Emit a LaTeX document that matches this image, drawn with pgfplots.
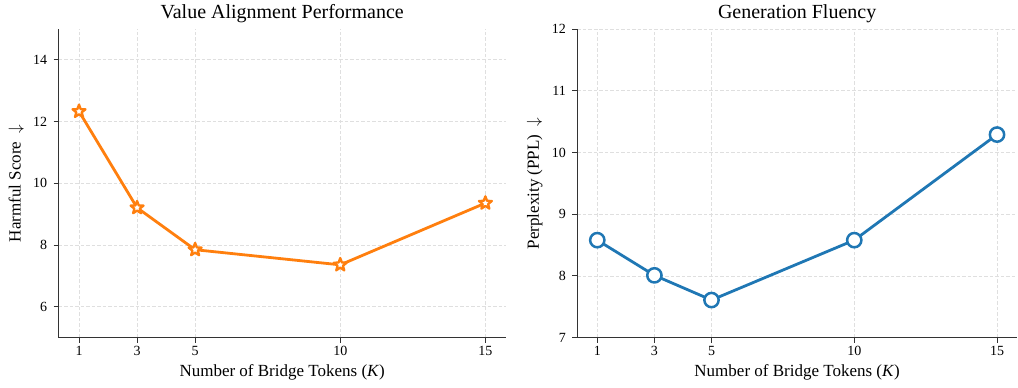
\documentclass[border=0pt]{standalone}
\usepackage{fontspec}
\setmainfont{Liberation Serif}
\usepackage{pgfplots}
\pgfplotsset{compat=1.18}
\definecolor{tabblue}{HTML}{1F77B4}
\definecolor{taborange}{HTML}{FF7F0E}

\pgfdeclareplotmark{ostar}{%
  \pgfpathmoveto{\pgfpointpolar{90}{\pgfplotmarksize}}%
  \pgfpathlineto{\pgfpointpolar{126}{0.42\pgfplotmarksize}}%
  \pgfpathlineto{\pgfpointpolar{162}{\pgfplotmarksize}}%
  \pgfpathlineto{\pgfpointpolar{198}{0.42\pgfplotmarksize}}%
  \pgfpathlineto{\pgfpointpolar{234}{\pgfplotmarksize}}%
  \pgfpathlineto{\pgfpointpolar{270}{0.42\pgfplotmarksize}}%
  \pgfpathlineto{\pgfpointpolar{306}{\pgfplotmarksize}}%
  \pgfpathlineto{\pgfpointpolar{342}{0.42\pgfplotmarksize}}%
  \pgfpathlineto{\pgfpointpolar{18}{\pgfplotmarksize}}%
  \pgfpathlineto{\pgfpointpolar{54}{0.42\pgfplotmarksize}}%
  \pgfpathclose
  \pgfusepathqfillstroke
}

\pgfplotsset{
  every axis title shift=0pt,
  myaxis/.style={
    scale only axis,
    height=308.7bp,
    axis x line*=bottom, axis y line*=left,
    axis line style={black!80, line width=1bp},
    xmin=0.3, xmax=15.7,
    xtick={1,3,5,10,15},
    tick align=outside, major tick length=5bp,
    tick style={black!80, line width=1bp},
    grid=major,
    grid style={gray!25, line width=0.8bp, dash pattern=on 3.5bp off 2bp},
    ticklabel style={font=\fontsize{14bp}{16bp}\selectfont},
    yticklabel style={xshift=-3bp},
    /pgf/number format/assume math mode=true,
    label style={font=\fontsize{17bp}{20bp}\selectfont},
    title style={font=\fontsize{20bp}{24bp}\selectfont, at={(axis description cs:0.5,1.0356)}, anchor=base},
    xlabel style={at={(axis description cs:0.5,-0.1263)}, anchor=base},
    xlabel={Number of Bridge Tokens (\textit{K})},
  }
}

\begin{document}
\begin{tikzpicture}
\path[use as bounding box] (-58.7bp,-50.3bp) rectangle (959.3bp,337.7bp);

\pgfplotstableread{
x y
1 12.33
3 9.21
5 7.85
10 7.36
15 9.36
}\harmful

\pgfplotstableread{
x y
1 8.58
3 8.01
5 7.61
10 8.58
15 10.29
}\ppl

\begin{axis}[myaxis,
  at={(0,0)}, anchor=south west,
  width=447bp,
  ymin=5, ymax=15, ytick={6,8,10,12,14},
  title={Value Alignment Performance},
  ylabel={Harmful Score \ $\downarrow$},
  ylabel style={at={(axis description cs:-0.085,0.5)}, anchor=base},
]
\addplot[draw=taborange, line width=2.8bp, line join=round,
  mark=ostar, mark size=6.8bp,
  mark options={fill=white, draw=taborange, line width=2.3bp, solid, line join=round}]
  table[x=x, y=y] {\harmful};
\end{axis}

\begin{axis}[myaxis,
  at={(518.6bp,0)}, anchor=south west,
  width=439.7bp,
  ymin=7, ymax=12, ytick={7,8,9,10,11,12},
  title={Generation Fluency},
  ylabel={Perplexity (PPL) \ $\downarrow$},
  ylabel style={at={(axis description cs:-0.0875,0.5)}, anchor=base},
]
\addplot[draw=tabblue, line width=2.8bp, line join=round,
  mark=*, mark size=7.15bp,
  mark options={fill=white, draw=tabblue, line width=2.5bp, solid}]
  table[x=x, y=y] {\ppl};
\end{axis}
\end{tikzpicture}
\end{document}
